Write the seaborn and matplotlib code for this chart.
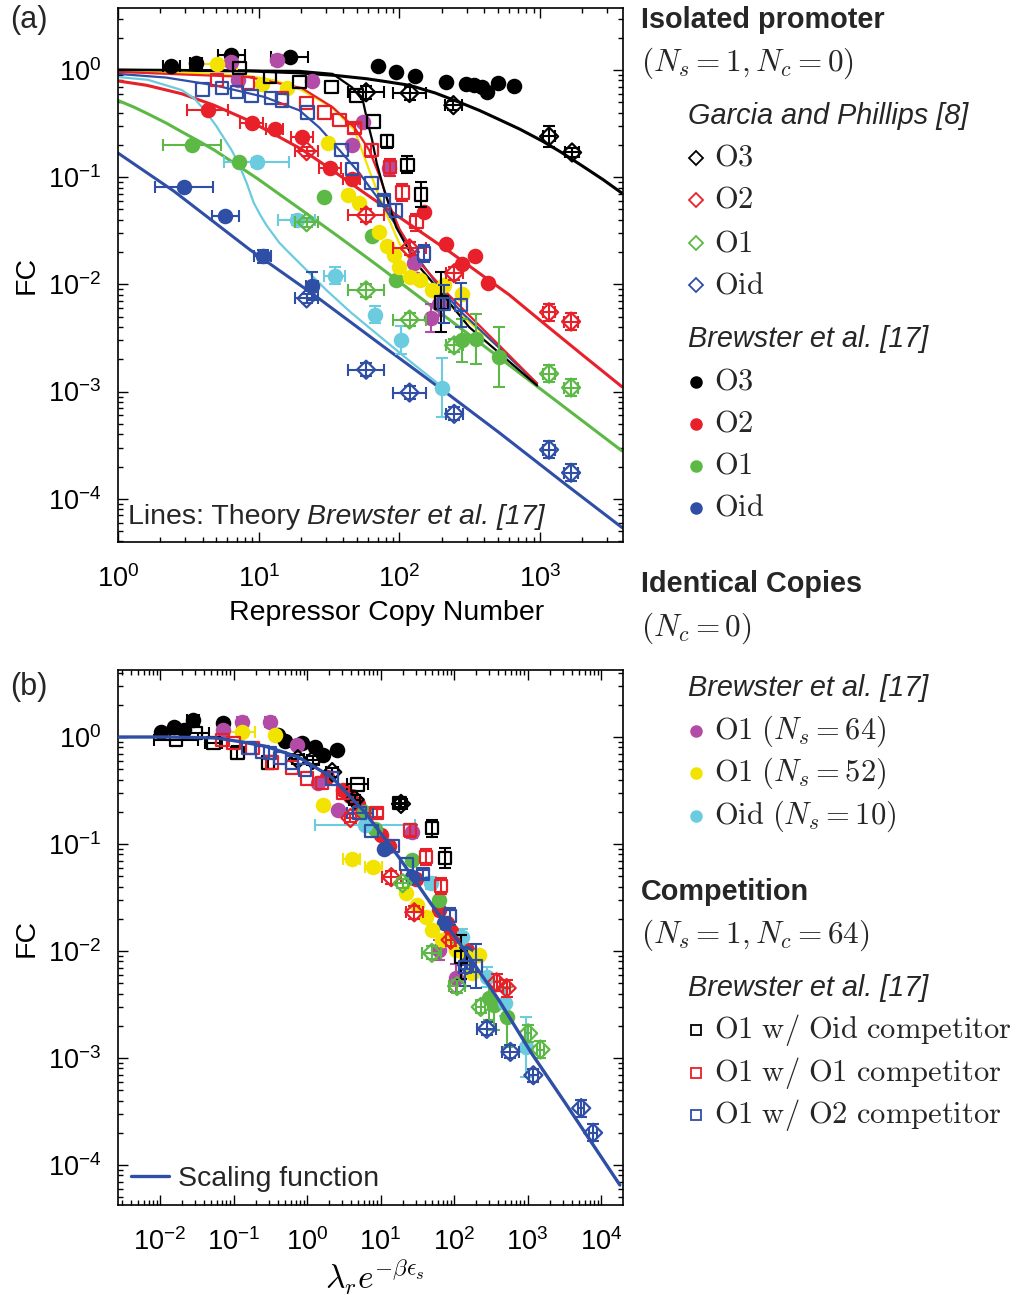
import numpy as np
import pandas as pd
import matplotlib
matplotlib.use("Agg")
import matplotlib.pyplot as plt
import seaborn as sns
from matplotlib.lines import Line2D
from matplotlib.ticker import LogLocator, NullFormatter

# ---------------- DATA : panel (a) ----------------
# Brewster et al. isolated promoter (filled circles)
a_o3_x = [2.4, 3.6, 6.4, 16.6, 70, 95, 130, 215, 299, 340, 388, 421, 504, 654]
a_o3_y = [1.09, 1.16, 1.38, 1.32, 1.09, 0.96, 0.88, 0.77, 0.74, 0.72, 0.69, 0.62, 0.76, 0.71]
a_o3_xe = [1.15, 1.1, 1.25, 1.35, 1, 1, 1, 1, 1, 1, 1, 1, 1, 1]
a_o2_x = [4.35, 8.9, 13, 20.2, 32, 46, 150, 215, 280, 346, 428]
a_o2_y = [0.42, 0.32, 0.28, 0.237, 0.121, 0.096, 0.047, 0.024, 0.0154, 0.0183, 0.0102]
a_o2_xe = [1.4, 1.2, 1.15, 1.2, 1.2, 1.15, 1, 1, 1, 1, 1]
a_o1_x = [3.35, 7.3, 28.9, 64, 95, 280, 352, 512]
a_o1_y = [0.199, 0.138, 0.065, 0.028, 0.0109, 0.0030, 0.0031, 0.0021]
a_o1_xe = [1.6, 1, 1, 1, 1, 1, 1, 1]
a_o1_ye = [1, 1, 1, 1, 1, 1.6, 1.7, 1.9]
a_oid_x = [2.94, 5.8, 10.7, 23.8]
a_oid_y = [0.081, 0.043, 0.0183, 0.0096]
a_oid_xe = [1.6, 1.25, 1.15, 1.1]
a_oid_ye = [1, 1, 1.15, 1.35]
# identical copies
a_m64_x = [6.4, 13.6, 7.1, 24, 55, 46, 85, 128, 169, 192]
a_m64_y = [1.19, 1.24, 0.81, 0.79, 0.33, 0.2, 0.121, 0.016, 0.0049, 0.0066]
a_m64_ye = [1, 1.12, 1, 1, 1, 1, 1.15, 1.25, 1.35, 1.3]
a_y52_x = [5.04, 10.5, 16, 30.9, 42.8, 52, 72, 82, 92, 100, 118, 139, 171, 208, 280]
a_y52_y = [1.14, 0.74, 0.68, 0.21, 0.068, 0.057, 0.031, 0.023, 0.0187, 0.0144, 0.0116, 0.0109, 0.0088, 0.0098, 0.0082]
a_y52_xe = [1.4, 1, 1, 1, 1, 1, 1, 1, 1, 1, 1, 1, 1, 1, 1]
a_c10_x = [9.7, 18.6, 34.6, 67.6, 103, 202]
a_c10_y = [0.138, 0.0397, 0.0121, 0.0052, 0.0030, 0.00109]
a_c10_xe = [1.7, 1.35, 1.18, 1, 1, 1]
a_c10_ye = [1.1, 1.12, 1.2, 1.2, 1.35, 1.9]
# Garcia and Phillips (open diamonds)
g_o3_x = [58, 118, 242, 1158, 1686]
g_o3_y = [0.62, 0.61, 0.47, 0.24, 0.17]
g_x = [21.9, 58, 118, 245, 1158, 1660]
g_o2_y = [0.175, 0.044, 0.0217, 0.0127, 0.0055, 0.0045]
g_o1_y = [0.038, 0.0088, 0.0047, 0.0027, 0.00147, 0.00109]
g_oid_y = [0.0074, 0.0016, 0.00098, 0.00062, 0.000287, 0.000175]
g_o3_xe = [1.35, 1.3, 1.15, 1.1, 1.12]
g_o3_ye = [1.15, 1.15, 1.1, 1.25, 1.1]
g_xe = [1.2, 1.35, 1.3, 1.15, 1.1, 1.12]
g_ye = [1.1, 1.15, 1.15, 1.15, 1.2, 1.2]
# competition (open squares)
c_oid_x = [7.3, 12, 19.5, 33, 49.5, 65.4, 82, 114, 143, 199]
c_oid_y = [1.04, 0.86, 0.77, 0.69, 0.58, 0.33, 0.217, 0.13, 0.069, 0.0068]
c_oid_ye = [1, 1, 1, 1, 1, 1, 1.15, 1.2, 1.3, 1.9]
c_o1_x = [5.04, 8.4, 14.6, 21.9, 29.4, 37.5, 48, 63.3, 86, 105, 132]
c_o1_y = [0.81, 0.76, 0.55, 0.49, 0.40, 0.34, 0.287, 0.179, 0.124, 0.072, 0.038]
c_o1_ye = [1, 1, 1, 1, 1, 1, 1.1, 1.15, 1.2, 1.2, 1.2]
c_o2_x = [4.0, 5.5, 7.0, 8.9, 12.2, 14.6, 22.3, 38.8, 46, 63.3, 78, 95, 150, 208, 275]
c_o2_y = [0.66, 0.68, 0.62, 0.57, 0.55, 0.52, 0.40, 0.179, 0.119, 0.088, 0.061, 0.049, 0.0195, 0.0066, 0.0064]
c_o2_ye = [1, 1, 1, 1, 1, 1, 1, 1, 1, 1, 1.1, 1.15, 1.2, 1.5, 1.6]

# theory lines, panel (a)
th_o3_x = [1, 3, 8.6, 19.5, 35, 58, 80, 118, 180, 267, 370, 512, 720, 1033, 1400, 1985, 2800, 3816]
th_o3_y = [1.0, 0.99, 0.98, 0.94, 0.89, 0.83, 0.78, 0.72, 0.61, 0.50, 0.42, 0.345, 0.28, 0.218, 0.172, 0.128, 0.095, 0.071]
th_o2_x = [1, 1.6, 2.84, 4.8, 8.4, 13, 20.2, 31.9, 55, 100, 226, 400, 603, 1200, 2000, 3816]
th_o2_y = [0.79, 0.72, 0.60, 0.47, 0.34, 0.25, 0.182, 0.121, 0.073, 0.0423, 0.0203, 0.0118, 0.0080, 0.0038, 0.0022, 0.00111]
th_o1_x = [1, 1.3, 1.63, 2.2, 2.84, 3.8, 4.87, 7, 9.8, 19.5, 37.5, 72, 226, 710, 3816]
th_o1_y = [0.52, 0.45, 0.39, 0.32, 0.265, 0.215, 0.178, 0.13, 0.097, 0.051, 0.0275, 0.0146, 0.0047, 0.0015, 0.00028]
th_oid_x = [1, 2.5, 8.6, 25, 72, 200, 512, 1500, 3816]
th_oid_y = [0.168, 0.074, 0.0212, 0.0079, 0.00281, 0.00105, 0.000414, 0.000138, 5.4e-5]
th_c10_x = [1, 1.63, 2.84, 3.5, 4.14, 5.0, 5.74, 6.4, 6.98, 7.5, 8.22, 9.2, 10.2, 11.3, 12.5, 14, 15.8, 22, 30.4, 45, 72, 120, 208]
th_c10_y = [0.86, 0.81, 0.65, 0.54, 0.42, 0.30, 0.225, 0.18, 0.145, 0.118, 0.088, 0.058, 0.045, 0.036, 0.030, 0.0245, 0.0208, 0.0135, 0.0088, 0.0055, 0.0033, 0.0019, 0.00107]
th_y52_x = [1, 3, 8.4, 13, 20.2, 33, 48, 61, 76, 100, 139, 226, 435, 710]
th_y52_y = [0.96, 0.95, 0.88, 0.8, 0.65, 0.45, 0.275, 0.116, 0.055, 0.024, 0.0121, 0.0064, 0.0031, 0.00175]
th_co2_x = [1, 2.2, 4.87, 11, 19.5, 27, 37.5, 52, 72, 100, 139, 192, 280, 952]
th_co2_y = [0.92, 0.85, 0.72, 0.56, 0.42, 0.29, 0.179, 0.109, 0.061, 0.032, 0.0168, 0.0094, 0.0054, 0.00119]
th_co1_x = [1, 8.4, 20.2, 33.5, 48, 61, 72, 85, 100, 139, 226, 512, 952]
th_co1_y = [0.96, 0.86, 0.68, 0.45, 0.29, 0.179, 0.104, 0.055, 0.033, 0.016, 0.0079, 0.0027, 0.00119]
th_coid_x = [1, 19.5, 33.5, 46, 55, 59, 64, 69, 78, 95, 132, 192, 313, 952]
th_coid_y = [1.0, 0.98, 0.92, 0.69, 0.52, 0.34, 0.222, 0.135, 0.0756, 0.034, 0.0157, 0.0088, 0.004, 0.00114]

# ---------------- DATA : panel (b) ----------------
b_o3_x = [0.0103, 0.0155, 0.021, 0.028, 0.071, 0.405, 0.50, 0.86, 1.28, 1.64, 2.54]
b_o3_y = [1.11, 1.24, 1.16, 1.44, 1.35, 1.04, 0.92, 0.88, 0.81, 0.68, 0.76]
b_o3_xe = [1, 1, 1, 1.2, 1, 1, 1, 1, 1, 1, 1]
b_o2_x = [1.9, 3.1, 3.8, 5.0, 10, 13, 30, 62, 90, 80, 150]
b_o2_y = [0.42, 0.32, 0.28, 0.237, 0.121, 0.096, 0.047, 0.024, 0.0154, 0.0183, 0.0102]
b_o1_x = [6.0, 8.5, 27, 63, 110, 300, 350, 520]
b_o1_y = [0.199, 0.138, 0.071, 0.030, 0.0109, 0.0036, 0.0031, 0.0024]
b_o1_ye = [1, 1, 1, 1, 1, 1.6, 1.7, 1.9]
b_oid_x = [11, 27, 73, 145]
b_oid_y = [0.089, 0.049, 0.0183, 0.0096]
b_m64_x = [0.071, 0.132, 0.316, 0.73, 1.41, 2.62, 27, 63, 106]
b_m64_y = [1.16, 1.38, 1.38, 0.84, 0.37, 0.21, 0.13, 0.0102, 0.0056]
b_m64_ye = [1, 1.12, 1.12, 1, 1, 1, 1.15, 1.25, 1.35]
b_y52_x = [0.132, 0.37, 1.64, 4.06, 8.0, 22.5, 31.6, 41.8, 50.4, 68.8, 106, 145, 218, 175]
b_y52_y = [1.11, 1.04, 0.231, 0.072, 0.061, 0.0348, 0.0269, 0.0208, 0.0157, 0.0127, 0.0102, 0.0088, 0.0092, 0.0062]
b_y52_xe = [1.5, 1, 1, 1.3, 1.3, 1, 1, 1, 1, 1, 1, 1, 1, 1]
b_c10_x = [6.08, 48.9, 128, 279, 489, 968]
b_c10_y = [0.151, 0.0432, 0.0135, 0.0057, 0.0033, 0.00127]
b_c10_xe = [4.8, 1, 1, 1, 1, 1]
b_c10_ye = [1, 1.15, 1.2, 1.25, 1.35, 1.9]
bg_o3_x = [0.75, 1.2, 2.2, 4.45, 19]
bg_o3_y = [0.62, 0.61, 0.47, 0.26, 0.237]
bg_o2_x = [3.9, 14, 28.8, 90, 380, 520]
bg_o2_y = [0.175, 0.049, 0.023, 0.0127, 0.0051, 0.0045]
bg_o1_x = [20, 50, 110, 231, 1020, 1500]
bg_o1_y = [0.043, 0.0096, 0.0047, 0.003, 0.0017, 0.0012]
bg_oid_x = [150, 279, 585, 1200, 5370, 7800]
bg_oid_y = [0.0074, 0.00187, 0.00114, 0.00069, 0.00034, 0.0002]
bc_oid_x = [0.0164, 0.0306, 0.0537, 0.113, 0.297, 4.89, 18.1, 50.4, 75.5, 124]
bc_oid_y = [0.94, 1.09, 0.88, 0.71, 0.58, 0.36, 0.242, 0.141, 0.074, 0.0088]
bc_oid_xe = [2.0, 1.5, 1.3, 1, 1, 1.4, 1.2, 1, 1, 1]
bc_oid_ye = [1, 1, 1, 1.15, 1.15, 1, 1.1, 1.2, 1.25, 1.6]
bc_o1_x = [0.071, 0.1, 0.181, 0.337, 0.627, 1.0, 1.6, 3.07, 8.83, 25.4, 41.8, 66.8]
bc_o1_y = [0.94, 0.88, 0.79, 0.58, 0.52, 0.41, 0.37, 0.30, 0.195, 0.135, 0.0756, 0.0405]
bc_o1_ye = [1, 1, 1, 1, 1, 1, 1, 1, 1.1, 1.15, 1.2, 1.2]
bc_o2_x = [0.16, 0.247, 0.316, 0.43, 0.627, 0.94, 2.18, 5.2, 7.56, 14.5, 22.5, 38.1, 88, 141, 198]
bc_o2_y = [0.79, 0.72, 0.71, 0.64, 0.58, 0.49, 0.41, 0.195, 0.132, 0.096, 0.065, 0.0525, 0.0212, 0.0071, 0.0072]
bc_o2_ye = [1, 1, 1, 1, 1, 1, 1, 1, 1, 1, 1, 1.1, 1.2, 1.5, 1.6]
bc_o2_xe = [1, 1, 1, 1, 1, 1, 1, 1.5, 1, 1, 1, 1, 1, 1, 1]
# scaling function
sc_x = [0.0028, 0.012, 0.057, 0.13, 0.27, 0.76, 2.18, 6.1, 18.1, 50, 145, 405, 1132, 3263, 18060]
sc_y = [1.0, 1.0, 0.98, 0.9, 0.82, 0.65, 0.42, 0.199, 0.074, 0.0269, 0.0098, 0.0035, 0.00111, 0.00038, 6.5e-5]

# ---------------- STYLE ----------------
BLACK = '#000000'
RED = '#E8202A'
GREEN = '#5DB946'
BLUE = '#2F4EA6'
MAG = '#B24CA6'
YEL = '#F2E400'
CYAN = '#6BCBDF'

sns.set_theme(style="ticks")
plt.rcParams['font.family'] = ['Liberation Sans', 'DejaVu Sans']
plt.rcParams['mathtext.fontset'] = 'custom'
plt.rcParams['mathtext.rm'] = 'Liberation Sans'
plt.rcParams['mathtext.it'] = 'Liberation Sans:italic'
plt.rcParams['mathtext.bf'] = 'Liberation Sans:bold'
plt.rcParams['axes.unicode_minus'] = True

W, H = 1023, 1295
fig = plt.figure(figsize=(W / 100, H / 100), dpi=100)
ax_a = fig.add_axes([118 / W, 1 - 542 / H, 505 / W, 534 / H])
ax_b = fig.add_axes([118 / W, 1 - 1205 / H, 505 / W, 535 / H])

for ax in (ax_a, ax_b):
    ax.set_xscale('log')
    ax.set_yscale('log')


def line(ax, x, y, color, lw=2.2, z=2):
    df = pd.DataFrame({'x': x, 'y': y})
    sns.lineplot(data=df, x='x', y='y', ax=ax, color=color, lw=lw, sort=False,
                 estimator=None, zorder=z, legend=False)


def pts(ax, x, y, color, marker, filled, size, xe=None, ye=None, z=3):
    x = np.asarray(x, float)
    y = np.asarray(y, float)
    ekw = dict(fmt='none', ecolor=color, elinewidth=1.5, capsize=4.5, capthick=1.5, zorder=z)
    if xe is not None:
        f = np.asarray(xe, float)
        m = f > 1
        if m.any():
            ax.errorbar(x[m], y[m], xerr=[x[m] - x[m] / f[m], x[m] * f[m] - x[m]], **ekw)
    if ye is not None:
        f = np.asarray(ye, float)
        m = f > 1
        if m.any():
            ax.errorbar(x[m], y[m], yerr=[y[m] - y[m] / f[m], y[m] * f[m] - y[m]], **ekw)
    df = pd.DataFrame({'x': x, 'y': y})
    if filled:
        sns.scatterplot(data=df, x='x', y='y', ax=ax, color=color, marker=marker, s=size,
                        edgecolor=color, linewidth=0, zorder=z + 0.5, legend=False)
    else:
        sns.scatterplot(data=df, x='x', y='y', ax=ax, color=color, marker=marker, s=size,
                        facecolor='none', edgecolor=color, linewidth=1.6, zorder=z + 0.5,
                        legend=False)


CS, DS, SS = 125, 85, 80

# ---------------- PANEL (a) ----------------
line(ax_a, th_o3_x, th_o3_y, BLACK)
line(ax_a, th_o2_x, th_o2_y, RED)
line(ax_a, th_o1_x, th_o1_y, GREEN)
line(ax_a, th_oid_x, th_oid_y, BLUE)
line(ax_a, th_c10_x, th_c10_y, CYAN, lw=1.6)
line(ax_a, th_y52_x, th_y52_y, YEL, lw=1.6)
line(ax_a, th_co2_x, th_co2_y, BLUE, lw=1.6)
line(ax_a, th_co1_x, th_co1_y, RED, lw=1.6)
line(ax_a, th_coid_x, th_coid_y, BLACK, lw=1.6)

pts(ax_a, a_o3_x, a_o3_y, BLACK, 'o', True, CS, xe=a_o3_xe)
pts(ax_a, a_o2_x, a_o2_y, RED, 'o', True, CS, xe=a_o2_xe)
pts(ax_a, a_o1_x, a_o1_y, GREEN, 'o', True, CS, xe=a_o1_xe, ye=a_o1_ye)
pts(ax_a, a_oid_x, a_oid_y, BLUE, 'o', True, CS, xe=a_oid_xe, ye=a_oid_ye)
pts(ax_a, a_m64_x, a_m64_y, MAG, 'o', True, CS, ye=a_m64_ye)
pts(ax_a, a_y52_x, a_y52_y, YEL, 'o', True, CS, xe=a_y52_xe)
pts(ax_a, a_c10_x, a_c10_y, CYAN, 'o', True, CS, xe=a_c10_xe, ye=a_c10_ye)
pts(ax_a, g_o3_x, g_o3_y, BLACK, 'D', False, DS, xe=g_o3_xe, ye=g_o3_ye, z=4)
pts(ax_a, g_x, g_o2_y, RED, 'D', False, DS, xe=g_xe, ye=g_ye, z=4)
pts(ax_a, g_x, g_o1_y, GREEN, 'D', False, DS, xe=g_xe, ye=g_ye, z=4)
pts(ax_a, g_x, g_oid_y, BLUE, 'D', False, DS, xe=g_xe, ye=g_ye, z=4)
pts(ax_a, c_oid_x, c_oid_y, BLACK, 's', False, SS, ye=c_oid_ye, z=4)
pts(ax_a, c_o1_x, c_o1_y, RED, 's', False, SS, ye=c_o1_ye, z=4)
pts(ax_a, c_o2_x, c_o2_y, BLUE, 's', False, SS, ye=c_o2_ye, z=4)

# ---------------- PANEL (b) ----------------
line(ax_b, sc_x, sc_y, BLUE, lw=2.4, z=5)
pts(ax_b, b_o3_x, b_o3_y, BLACK, 'o', True, CS, xe=b_o3_xe)
pts(ax_b, b_o2_x, b_o2_y, RED, 'o', True, CS)
pts(ax_b, b_o1_x, b_o1_y, GREEN, 'o', True, CS, ye=b_o1_ye)
pts(ax_b, b_oid_x, b_oid_y, BLUE, 'o', True, CS)
pts(ax_b, b_m64_x, b_m64_y, MAG, 'o', True, CS, ye=b_m64_ye)
pts(ax_b, b_y52_x, b_y52_y, YEL, 'o', True, CS, xe=b_y52_xe)
pts(ax_b, b_c10_x, b_c10_y, CYAN, 'o', True, CS, xe=b_c10_xe, ye=b_c10_ye)
pts(ax_b, bg_o3_x, bg_o3_y, BLACK, 'D', False, DS, xe=[1.2] * 5, ye=[1.1] * 5, z=4)
pts(ax_b, bg_o2_x, bg_o2_y, RED, 'D', False, DS, xe=g_xe, ye=g_ye, z=4)
pts(ax_b, bg_o1_x, bg_o1_y, GREEN, 'D', False, DS, xe=g_xe, ye=g_ye, z=4)
pts(ax_b, bg_oid_x, bg_oid_y, BLUE, 'D', False, DS, xe=g_xe, ye=g_ye, z=4)
pts(ax_b, bc_oid_x, bc_oid_y, BLACK, 's', False, SS, xe=bc_oid_xe, ye=bc_oid_ye, z=4)
pts(ax_b, bc_o1_x, bc_o1_y, RED, 's', False, SS, ye=bc_o1_ye, z=4)
pts(ax_b, bc_o2_x, bc_o2_y, BLUE, 's', False, SS, xe=bc_o2_xe, ye=bc_o2_ye, z=4)

ax_b.legend(handles=[Line2D([], [], color=BLUE, lw=2.4)], labels=['Scaling function'],
            loc='lower left', frameon=False, fontsize=20.5, handlelength=1.35,
            handletextpad=0.3, borderaxespad=0, borderpad=0.45)

# ---------------- AXES FORMAT ----------------
ax_a.set_xlim(1, 10 ** ((623 - 118) / 140.7))
ax_a.set_ylim(10 ** ((70 - 542) / 107.2), 10 ** ((70 - 8) / 107.2))
ax_b.set_xlim(10 ** ((118 - 307) / 73.5), 10 ** ((623 - 307) / 73.5))
ax_b.set_ylim(10 ** ((737 - 1205) / 107), 10 ** ((737 - 670) / 107))

for ax in (ax_a, ax_b):
    for sp in ax.spines.values():
        sp.set_visible(True)
        sp.set_color('black')
        sp.set_linewidth(1.2)
    ax.xaxis.set_major_locator(LogLocator(base=10, numticks=20))
    ax.yaxis.set_major_locator(LogLocator(base=10, numticks=20))
    ax.xaxis.set_minor_locator(LogLocator(base=10, subs=np.arange(2, 10), numticks=20))
    ax.yaxis.set_minor_locator(LogLocator(base=10, subs=np.arange(2, 10), numticks=20))
    ax.xaxis.set_minor_formatter(NullFormatter())
    ax.yaxis.set_minor_formatter(NullFormatter())
    ax.tick_params(which='both', direction='in', top=True, right=True, color='black', width=1.0)
    ax.tick_params(which='major', length=7, labelsize=19.5, labelcolor='black')
    ax.tick_params(which='minor', length=3.5)
    ax.tick_params(axis='x', which='major', pad=17)
    ax.tick_params(axis='y', which='major', pad=12)
    ax.set_ylabel('FC', fontsize=20.5, color='black')
    ax.yaxis.set_label_coords(-0.155, 0.5)
    ax.grid(False)
    ax.set_facecolor('white')

ax_a.set_yticks([1e-4, 1e-3, 1e-2, 1e-1, 1])
ax_a.set_xticks([1, 10, 100, 1000])
ax_b.set_yticks([1e-4, 1e-3, 1e-2, 1e-1, 1])
ax_b.set_xticks([1e-2, 1e-1, 1, 10, 100, 1000, 1e4])
ax_a.set_xlabel('Repressor Copy Number', fontsize=20.5, color='black')
ax_a.xaxis.set_label_coords(0.531, -0.108)
ax_b.set_xlabel(r'$\lambda_r e^{-\beta\epsilon_s}$', fontsize=24, color='black', math_fontfamily='cm')
ax_b.xaxis.set_label_coords(0.509, -0.098)

# ---------------- RIGHT-HAND KEY (overlay in pixel units) ----------------
lax = fig.add_axes([0, 0, 1, 1], zorder=10)
lax.set_xlim(0, W)
lax.set_ylim(H, 0)
lax.axis('off')
lax.patch.set_alpha(0)

FS = 20.8
lax.text(10, 20, '(a)', fontsize=22, va='center', ha='left')
lax.text(10, 687, '(b)', fontsize=22, va='center', ha='left')

# in-plot note of panel (a): regular + italic part
t1 = lax.text(128, 517, 'Lines: Theory', fontsize=20.5, va='center', ha='left')
fig.canvas.draw()
bb = t1.get_window_extent(renderer=fig.canvas.get_renderer())
x_end = lax.transData.inverted().transform((bb.x1, bb.y0))[0]
lax.text(x_end + 7, 517, 'Brewster et al. [17]', fontsize=20.5, fontstyle='italic',
         va='center', ha='left')


def head(y, s):
    lax.text(641, y, s, fontsize=FS, fontweight='bold', va='center', ha='left')


def cm(x, y, s, size=22.5):
    lax.text(x, y, s, fontsize=size, va='center', ha='left', math_fontfamily='cm')


def ital(y, s):
    lax.text(688, y, s, fontsize=FS, fontstyle='italic', va='center', ha='left')


def item(y, color, marker, filled, s):
    if filled:
        lax.plot([696], [y], marker=marker, ms=8, mfc=color, mec=color, ls='none')
    else:
        lax.plot([696], [y], marker=marker, ms=7 if marker == 'D' else 7.5, mfc='none', mec=color,
                 mew=1.3, ls='none')
    cm(714, y, s, size=22)


head(20, 'Isolated promoter')
cm(641, 63, r'$(N_s = 1, N_c = 0)$')
ital(116, 'Garcia and Phillips [8]')
item(158, BLACK, 'D', False, r'$\mathrm{O3}$')
item(200, RED, 'D', False, r'$\mathrm{O2}$')
item(243, GREEN, 'D', False, r'$\mathrm{O1}$')
item(285, BLUE, 'D', False, r'$\mathrm{Oid}$')
ital(339, 'Brewster et al. [17]')
item(382, BLACK, 'o', True, r'$\mathrm{O3}$')
item(424, RED, 'o', True, r'$\mathrm{O2}$')
item(466, GREEN, 'o', True, r'$\mathrm{O1}$')
item(508, BLUE, 'o', True, r'$\mathrm{Oid}$')

head(584, 'Identical Copies')
cm(641, 628, r'$(N_c = 0)$')
ital(688, 'Brewster et al. [17]')
item(731, MAG, 'o', True, r'$\mathrm{O1}\ (N_s = 64)$')
item(773, YEL, 'o', True, r'$\mathrm{O1}\ (N_s = 52)$')
item(816, CYAN, 'o', True, r'$\mathrm{Oid}\ (N_s = 10)$')

head(892, 'Competition')
cm(641, 935, r'$(N_s = 1, N_c = 64)$')
ital(988, 'Brewster et al. [17]')
item(1030, BLACK, 's', False, r'$\mathrm{O1\ w/\ Oid\ competitor}$')
item(1073, RED, 's', False, r'$\mathrm{O1\ w/\ O1\ competitor}$')
item(1115, BLUE, 's', False, r'$\mathrm{O1\ w/\ O2\ competitor}$')

fig.savefig('out.png', dpi=100)
